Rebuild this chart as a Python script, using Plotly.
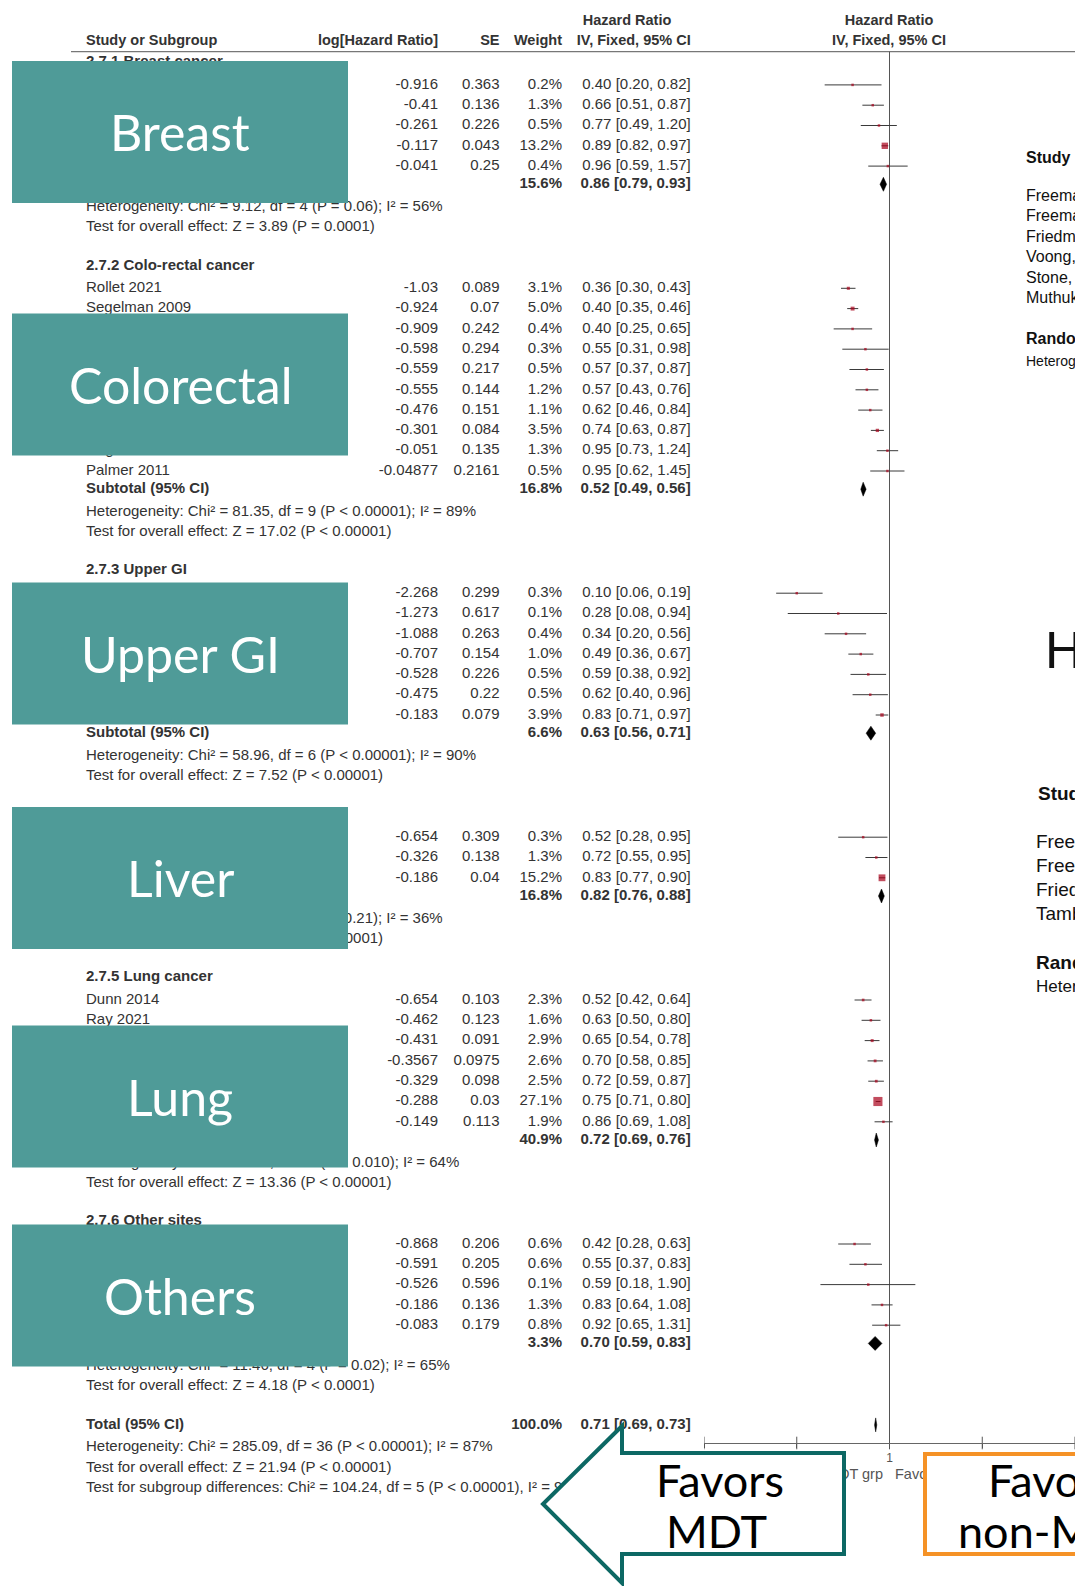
import plotly.graph_objects as go

# the page body has an 8 px margin, so the figure is placed at (8, 8) in the window;
# axis ranges below are set so that a coordinate equals the window pixel
OFF = 8
FW, FH = 1075, 1578

# ---------------- data ----------------
group_titles = ["2.7.1 Breast cancer", "2.7.2 Colo-rectal cancer", "2.7.3 Upper GI",
                "2.7.4 Liver cancer", "2.7.5 Lung cancer", "2.7.6 Other sites"]
box_labels = ["Breast", "Colorectal", "Upper GI", "Liver", "Lung", "Others"]

breast_names = ["", "", "", "", ""]
breast_loghr = [-0.916, -0.41, -0.261, -0.117, -0.041]
breast_se = [0.363, 0.136, 0.226, 0.043, 0.25]
breast_w = [0.2, 1.3, 0.5, 13.2, 0.4]
breast_hr = [0.40, 0.66, 0.77, 0.89, 0.96]
breast_lo = [0.20, 0.51, 0.49, 0.82, 0.59]
breast_hi = [0.82, 0.87, 1.20, 0.97, 1.57]

crc_names = ["Rollet 2021", "Segelman 2009", "", "", "", "", "", "",
             "Rogers 2017 - Colorectal", "Palmer 2011"]
crc_loghr = [-1.03, -0.924, -0.909, -0.598, -0.559, -0.555, -0.476, -0.301, -0.051, -0.04877]
crc_se = [0.089, 0.07, 0.242, 0.294, 0.217, 0.144, 0.151, 0.084, 0.135, 0.2161]
crc_w = [3.1, 5.0, 0.4, 0.3, 0.5, 1.2, 1.1, 3.5, 1.3, 0.5]
crc_hr = [0.36, 0.40, 0.40, 0.55, 0.57, 0.57, 0.62, 0.74, 0.95, 0.95]
crc_lo = [0.30, 0.35, 0.25, 0.31, 0.37, 0.43, 0.46, 0.63, 0.73, 0.62]
crc_hi = [0.43, 0.46, 0.65, 0.98, 0.87, 0.76, 0.84, 0.87, 1.24, 1.45]

ugi_names = ["", "", "", "", "", "", ""]
ugi_loghr = [-2.268, -1.273, -1.088, -0.707, -0.528, -0.475, -0.183]
ugi_se = [0.299, 0.617, 0.263, 0.154, 0.226, 0.22, 0.079]
ugi_w = [0.3, 0.1, 0.4, 1.0, 0.5, 0.5, 3.9]
ugi_hr = [0.10, 0.28, 0.34, 0.49, 0.59, 0.62, 0.83]
ugi_lo = [0.06, 0.08, 0.20, 0.36, 0.38, 0.40, 0.71]
ugi_hi = [0.19, 0.94, 0.56, 0.67, 0.92, 0.96, 0.97]

liver_names = ["", "", ""]
liver_loghr = [-0.654, -0.326, -0.186]
liver_se = [0.309, 0.138, 0.04]
liver_w = [0.3, 1.3, 15.2]
liver_hr = [0.52, 0.72, 0.83]
liver_lo = [0.28, 0.55, 0.77]
liver_hi = [0.95, 0.95, 0.90]

lung_names = ["Dunn 2014", "Ray 2021", "", "", "", "", ""]
lung_loghr = [-0.654, -0.462, -0.431, -0.3567, -0.329, -0.288, -0.149]
lung_se = [0.103, 0.123, 0.091, 0.0975, 0.098, 0.03, 0.113]
lung_w = [2.3, 1.6, 2.9, 2.6, 2.5, 27.1, 1.9]
lung_hr = [0.52, 0.63, 0.65, 0.70, 0.72, 0.75, 0.86]
lung_lo = [0.42, 0.50, 0.54, 0.58, 0.59, 0.71, 0.69]
lung_hi = [0.64, 0.80, 0.78, 0.85, 0.87, 0.80, 1.08]

other_names = ["", "", "", "", ""]
other_loghr = [-0.868, -0.591, -0.526, -0.186, -0.083]
other_se = [0.206, 0.205, 0.596, 0.136, 0.179]
other_w = [0.6, 0.6, 0.1, 1.3, 0.8]
other_hr = [0.42, 0.55, 0.59, 0.83, 0.92]
other_lo = [0.28, 0.37, 0.18, 0.64, 0.65]
other_hi = [0.63, 0.83, 1.90, 1.08, 1.31]

subtotal_w = [15.6, 16.8, 6.6, 16.8, 40.9, 3.3]
subtotal_hr = [0.86, 0.52, 0.63, 0.82, 0.72, 0.70]
subtotal_lo = [0.79, 0.49, 0.56, 0.76, 0.69, 0.59]
subtotal_hi = [0.93, 0.56, 0.71, 0.88, 0.76, 0.83]

heterogeneity = [
    "Heterogeneity: Chi² = 9.12, df = 4 (P = 0.06); I² = 56%",
    "Heterogeneity: Chi² = 81.35, df = 9 (P < 0.00001); I² = 89%",
    "Heterogeneity: Chi² = 58.96, df = 6 (P < 0.00001); I² = 90%",
    "Heterogeneity: Chi² = 3.13, df = 2 (P = 0.21); I² = 36%",
    "Heterogeneity: Chi² = 16.67, df = 6 (P = 0.010); I² = 64%",
    "Heterogeneity: Chi² = 11.46, df = 4 (P = 0.02); I² = 65%",
]
overall_effect = [
    "Test for overall effect: Z = 3.89 (P = 0.0001)",
    "Test for overall effect: Z = 17.02 (P < 0.00001)",
    "Test for overall effect: Z = 7.52 (P < 0.00001)",
    "Test for overall effect: Z = 5.25 (P < 0.00001)",
    "Test for overall effect: Z = 13.36 (P < 0.00001)",
    "Test for overall effect: Z = 4.18 (P < 0.0001)",
]

total_w = 100.0
total_hr, total_lo, total_hi = 0.71, 0.69, 0.73
total_lines = [
    "Heterogeneity: Chi² = 285.09, df = 36 (P < 0.00001); I² = 87%",
    "Test for overall effect: Z = 21.94 (P < 0.00001)",
    "Test for subgroup differences: Chi² = 104.24, df = 5 (P < 0.00001), I² = 95.2%",
]

hr_ticks = [0.01, 0.1, 1, 10, 100]
tick_labels = ["0.01", "0.1", "1", "10", "100"]

# text of the neighbouring slide, cut by the right edge
slide_a = ["Freeman", "Freeman", "Friedman", "Voong,", "Stone, 2", "Muthukr"]
slide_b = ["Freeman", "Freeman", "Friedman", "Tamb"]

groups = [
    (breast_names, breast_loghr, breast_se, breast_w, breast_hr, breast_lo, breast_hi),
    (crc_names, crc_loghr, crc_se, crc_w, crc_hr, crc_lo, crc_hi),
    (ugi_names, ugi_loghr, ugi_se, ugi_w, ugi_hr, ugi_lo, ugi_hi),
    (liver_names, liver_loghr, liver_se, liver_w, liver_hr, liver_lo, liver_hi),
    (lung_names, lung_loghr, lung_se, lung_w, lung_hr, lung_lo, lung_hi),
    (other_names, other_loghr, other_se, other_w, other_hr, other_lo, other_hi),
]

# ---------------- layout of the rows (window pixels) ----------------
ROW = 20.3
X_NAME, X_LOG, X_SE, X_W, X_CI = 86, 438, 499.5, 562, 690.7
AXIS_Y, HEAD_Y = 1443, 51.6
FOREST_X0, FOREST_X1 = 704, 1075     # window x of HR 0.01 and HR 100
TXT = "#333333"
FONT = "Liberation Sans"

left_y, left_t = [], []
leftb_y, leftb_t = [], []
col = {k: ([], []) for k in ("log", "se", "w", "ci")}
colb = {k: ([], []) for k in ("w", "ci")}
ci_x, ci_y, sq_x, sq_y, sq_s = [], [], [], [], []
dia_x, dia_y = [], []


def diamond(est, lo, hi, yy):
    dia_x.extend([lo, est, hi, est, lo, None])
    dia_y.extend([yy, yy - 7, yy, yy + 7, yy, None])


y = 62.4
for gi, (names, lhr, se, w, hr, lo, hi) in enumerate(groups):
    leftb_y.append(y); leftb_t.append(group_titles[gi])
    y += 22.5
    for i in range(len(lhr)):
        if names[i]:
            left_y.append(y); left_t.append(names[i])
        col["log"][0].append(y); col["log"][1].append(str(lhr[i]))
        col["se"][0].append(y); col["se"][1].append(str(se[i]))
        col["w"][0].append(y); col["w"][1].append(f"{w[i]:.1f}%")
        col["ci"][0].append(y); col["ci"][1].append(f"{hr[i]:.2f} [{lo[i]:.2f}, {hi[i]:.2f}]")
        ci_x.extend([lo[i], hi[i], None]); ci_y.extend([y, y, None])
        sq_x.append(hr[i]); sq_y.append(y); sq_s.append(max(2.5, 1.75 * w[i] ** 0.5))
        y += ROW
    y += 18.2 - ROW
    leftb_y.append(y); leftb_t.append("Subtotal (95% CI)")
    colb["w"][0].append(y); colb["w"][1].append(f"{subtotal_w[gi]:.1f}%")
    colb["ci"][0].append(y)
    colb["ci"][1].append(f"{subtotal_hr[gi]:.2f} [{subtotal_lo[gi]:.2f}, {subtotal_hi[gi]:.2f}]")
    diamond(subtotal_hr[gi], subtotal_lo[gi], subtotal_hi[gi], y)
    y += 22.8
    left_y.append(y); left_t.append(heterogeneity[gi])
    y += 20.3
    left_y.append(y); left_t.append(overall_effect[gi])
    y += 38.4

leftb_y.append(y); leftb_t.append("Total (95% CI)")
colb["w"][0].append(y); colb["w"][1].append(f"{total_w:.1f}%")
colb["ci"][0].append(y); colb["ci"][1].append(f"{total_hr:.2f} [{total_lo:.2f}, {total_hi:.2f}]")
diamond(total_hr, total_lo, total_hi, y)
y += 22.8
for line in total_lines:
    left_y.append(y); left_t.append(line)
    y += 20.3

fig = go.Figure()


def text_trace(xs, ys, texts, pos, size=15, color=TXT, bold=False, family=FONT):
    if bold:
        texts = [f"<b>{t}</b>" for t in texts]
    fig.add_trace(go.Scatter(x=xs, y=ys, text=texts, mode="text", textposition=pos,
                             textfont=dict(family=family, size=size, color=color),
                             hoverinfo="skip", showlegend=False))


text_trace([X_NAME] * len(left_y), left_y, left_t, "middle right")
text_trace([X_NAME] * len(leftb_y), leftb_y, leftb_t, "middle right", bold=True)
for key, xr in (("log", X_LOG), ("se", X_SE), ("w", X_W), ("ci", X_CI)):
    text_trace([xr] * len(col[key][0]), col[key][0], col[key][1], "middle left")
for key, xr in (("w", X_W), ("ci", X_CI)):
    text_trace([xr] * len(colb[key][0]), colb[key][0], colb[key][1], "middle left", bold=True)

# column headers
text_trace([X_NAME], [41.5], ["Study or Subgroup"], "middle right", size=14.5, bold=True)
text_trace([X_LOG, X_SE, X_W, X_CI], [41.5] * 4,
           ["log[Hazard Ratio]", "SE", "Weight", "IV, Fixed, 95% CI"], "middle left",
           size=14.5, bold=True)
text_trace([627, 889, 889], [21.2, 21.2, 41.5],
           ["Hazard Ratio", "Hazard Ratio", "IV, Fixed, 95% CI"], "middle center",
           size=14.5, bold=True)
text_trace([883], [1475], ["Favours MDT grp"], "middle left", size=14.5, color="#555555")
text_trace([895], [1475], ["Favours non-MDT grp"], "middle right", size=14.5, color="#555555")

# neighbouring slide text, clipped by the right edge
text_trace([1026], [159], ["Study"], "middle right", size=16, color="#111111", bold=True)
text_trace([1026] * len(slide_a), [197 + 20.4 * i for i in range(len(slide_a))], slide_a,
           "middle right", size=16, color="#111111")
text_trace([1026], [340], ["Random"], "middle right", size=16, color="#111111", bold=True)
text_trace([1026], [362], ["Heterogeneity"], "middle right", size=14, color="#111111")
text_trace([1045], [655], ["Hi"], "middle right", size=52, color="#111111")
text_trace([1038], [795], ["Study"], "middle right", size=19, color="#111111", bold=True)
text_trace([1036] * len(slide_b), [843 + 24 * i for i in range(len(slide_b))], slide_b,
           "middle right", size=19, color="#111111")
text_trace([1036], [964], ["Random"], "middle right", size=19, color="#111111", bold=True)
text_trace([1036], [988], ["Heterogeneity"], "middle right", size=17, color="#111111")

# forest plot marks on the log axis
def forest(**kw):
    fig.add_trace(go.Scatter(xaxis="x2", hoverinfo="skip", showlegend=False, **kw))


forest(x=[1, 1], y=[HEAD_Y, AXIS_Y], mode="lines", line=dict(color="#555555", width=1))
forest(x=ci_x, y=ci_y, mode="lines", line=dict(color="#3a3a3a", width=1))
forest(x=sq_x, y=sq_y, mode="markers",
       marker=dict(symbol="square", size=sq_s, color="#a8001a", line_width=0))
forest(x=dia_x, y=dia_y, mode="lines", fill="toself", fillcolor="black",
       line=dict(color="black", width=0.5))
forest(x=hr_ticks, y=[AXIS_Y] * len(hr_ticks), mode="markers",
       marker=dict(symbol="line-ns", size=9, line=dict(color="#555555", width=1)))

# ---------------- overlay boxes ----------------
box_tops = [61, 313.5, 582.5, 807, 1025.5, 1224.5]
BOX_H = 142
shapes = [dict(type="line", xref="x", yref="y", x0=71, x1=OFF + FW, y0=HEAD_Y, y1=HEAD_Y,
               line=dict(color="#777777", width=1.2), layer="below")]
annotations = []
for top, lab in zip(box_tops, box_labels):
    shapes.append(dict(type="rect", xref="x", yref="y", x0=12, x1=348, y0=top, y1=top + BOX_H,
                       fillcolor="#4f9b98", line_width=0, layer="above"))
    annotations.append(dict(x=180, y=top + BOX_H / 2, xref="x", yref="y", text=lab,
                            showarrow=False, font=dict(family="Lato", size=50, color="white")))

shapes.append(dict(type="path", xref="x", yref="y", layer="above",
                   path="M 622,1426 L 543,1504 L 622,1583 L 622,1554 L 844,1554 L 844,1453 "
                        "L 622,1453 Z",
                   fillcolor="white", line=dict(color="#0d6864", width=4)))
shapes.append(dict(type="rect", xref="x", yref="y", x0=925, x1=1200, y0=1454, y1=1554,
                   layer="above", fillcolor="white", line=dict(color="#f59226", width=4)))
for txt, xc, yc in (("Favors", 720, 1480), ("MDT", 716, 1531),
                    ("Favors", 1052, 1480), ("non-MDT", 1055, 1531)):
    annotations.append(dict(x=xc, y=yc, xref="x", yref="y", text=txt, showarrow=False,
                            font=dict(family="Lato", size=45, color="black")))

fig.update_layout(
    width=FW, height=FH,
    margin=dict(l=0, r=0, t=0, b=0, autoexpand=False),
    paper_bgcolor="white", plot_bgcolor="rgba(0,0,0,0)",
    showlegend=False,
    shapes=shapes, annotations=annotations,
    xaxis=dict(range=[OFF, OFF + FW], domain=[0, 1], visible=False, fixedrange=True,
               automargin=False),
    yaxis=dict(range=[OFF + FH, OFF], domain=[0, 1], visible=False, fixedrange=True,
               automargin=False),
    xaxis2=dict(type="log", range=[-2, 2], automargin=False,
                domain=[(FOREST_X0 - OFF) / FW, (FOREST_X1 - OFF) / FW],
                anchor="free", position=1 - (AXIS_Y - OFF) / FH,
                tickvals=hr_ticks, ticktext=tick_labels, ticks="outside", ticklen=4,
                tickcolor="#555555", showline=True, linecolor="#666666", linewidth=1,
                showgrid=False, zeroline=False, ticklabeloverflow="allow",
                tickfont=dict(family=FONT, size=12, color="#555555")),
)

# keep the page from showing scroll bars over the right edge
fig.write_html("out.html", post_script="document.body.style.overflow = 'hidden';")
